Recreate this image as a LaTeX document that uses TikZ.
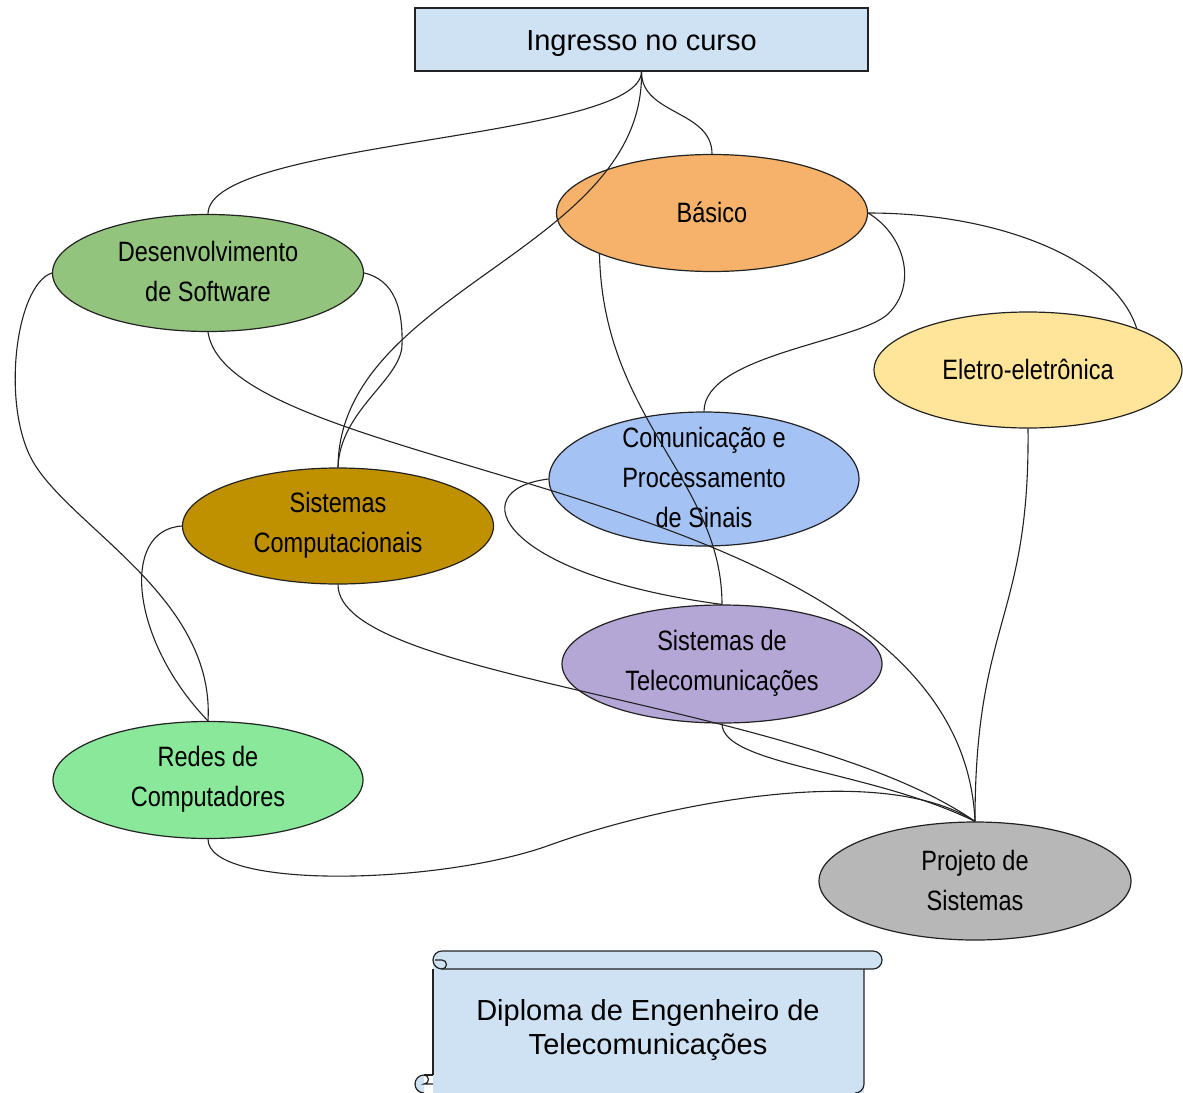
\documentclass[tikz,border=0pt]{standalone}
\usepackage{fontspec}
\setmainfont{Liberation Sans}
\newfontfamily\narrowfont{Liberation Sans}[FakeStretch=0.84]
\usetikzlibrary{shapes.geometric}
\definecolor{boxblue}{HTML}{CFE2F3}
\definecolor{basc}{HTML}{F6B26B}
\definecolor{devc}{HTML}{93C47D}
\definecolor{elec}{HTML}{FFE599}
\definecolor{comc}{HTML}{A4C2F4}
\definecolor{scc}{HTML}{BF9000}
\definecolor{stc}{HTML}{B4A7D6}
\definecolor{redc}{HTML}{89E89A}
\definecolor{proc}{HTML}{B7B7B7}
\definecolor{linec}{HTML}{222222}
\begin{document}
\begin{tikzpicture}[x=1pt,y=-1pt,
  ell/.style={ellipse, draw=linec, line width=1.2pt, inner sep=0pt},
  etext/.style={font=\narrowfont\fontsize{28}{40}\selectfont, align=center, inner sep=0pt, text=black},
  conn/.style={draw=linec, line width=1.1pt},
  scrollline/.style={draw=linec, line width=1.2pt}]
\clip (0,0) rectangle (1183,1092);
\fill[white] (0,0) rectangle (1183,1092);

% top box
\node[draw=linec, line width=1.2pt, fill=boxblue, minimum width=453pt, minimum height=63pt, inner sep=0pt] (ing) at (641.5,39.5) {};
\node[inner sep=0pt, font=\fontsize{29}{34}\selectfont] (ingT) at (641.5,44) {Ingresso no curso};

% ellipses
\node[ell, fill=basc, minimum width=311pt, minimum height=117pt] (bas) at (712,213) {};
\node[ell, fill=devc, minimum width=311pt, minimum height=117pt] (dev) at (208,273) {};
\node[ell, fill=elec, minimum width=308pt, minimum height=116pt] (ele) at (1028,370) {};
\node[ell, fill=comc, minimum width=310pt, minimum height=134pt] (com) at (704,479) {};
\node[ell, fill=scc, minimum width=311pt, minimum height=116pt] (sc) at (338,526) {};
\node[ell, fill=stc, minimum width=320pt, minimum height=118pt] (st) at (722,664) {};
\node[ell, fill=redc, minimum width=310pt, minimum height=117pt] (red) at (208,780) {};
\node[ell, fill=proc, minimum width=312pt, minimum height=118pt] (pro) at (975,881) {};

\node[etext] (basT) at (712,212) {Básico};
\node[etext] (devT) at (208,271) {Desenvolvimento\\de Software};
\node[etext] (eleT) at (1028,369) {Eletro-eletrônica};
\node[etext] (comT) at (704,477) {Comunicação e\\Processamento\\de Sinais};
\node[etext] (scT) at (338,525) {Sistemas\\Computacionais};
\node[etext] (stT) at (722,663) {Sistemas de\\Telecomunicações};
\node[etext] (redT) at (208,779) {Redes de\\Computadores};
\node[etext] (proT) at (975,880) {Projeto de\\Sistemas};

% connectors
\draw[conn] (ing.south) .. controls (641,140) and (208,140) .. (dev.north);
\draw[conn] (ing.south) .. controls (641,115) and (712,110) .. (bas.north);
\draw[conn] (ing.south) .. controls (645,250) and (339,290) .. (sc.north);
\draw[conn] (bas.east) .. controls (1000,213) and (1115,260) .. (ele.21);
\draw[conn] (bas.east) .. controls (905,235) and (918,285) .. (888,314) .. controls (858,342) and (704,355) .. (com.north);
\draw[conn] (bas.200) .. controls (603,420) and (722,480) .. (st.north);
\draw[conn] (dev.east) .. controls (395,280) and (403,310) .. (402,345) .. controls (401,380) and (340,410) .. (sc.north);
\draw[conn] (dev.west) .. controls (15,285) and (0,410) .. (35,465) .. controls (77,531) and (215,600) .. (red.north);
\draw[conn] (sc.west) .. controls (120,530) and (130,640) .. (red.north);
\draw[conn] (dev.south) .. controls (230,480) and (960,480) .. (pro.north);
\draw[conn] (sc.south) .. controls (338,680) and (800,700) .. (pro.north);
\draw[conn] (com.west) .. controls (460,490) and (500,575) .. (st.north);
\draw[conn] (st.south) .. controls (722,765) and (870,770) .. (pro.north);
\draw[conn] (red.south) .. controls (208,890) and (440,885) .. (550,845) .. controls (660,805) and (880,760) .. (pro.north);
\draw[conn] (ele.south) .. controls (1030,620) and (975,620) .. (pro.north);

% scroll
\fill[boxblue] (433,960) rectangle (864,1093);
\draw[scrollline] (433,969) -- (433,1075);
\draw[scrollline] (864,969) -- (864,1084) arc[start angle=0, end angle=90, radius=9];
\draw[scrollline, fill=boxblue] (424,1075) arc[start angle=-90, end angle=-270, radius=9];
\draw[scrollline] (424,1075) -- (433,1075);
\draw[scrollline] (433,1084) -- (424,1084) arc[start angle=90, end angle=-90, radius=4.5];
\draw[scrollline, fill=boxblue] (442,951) -- (873,951) arc[start angle=-90, end angle=90, radius=9] -- (442,969) arc[start angle=90, end angle=270, radius=9];
\draw[scrollline] (435,960) -- (442,960) arc[start angle=-90, end angle=90, radius=4.5];
\node[inner sep=0pt, align=center, font=\fontsize{29}{34}\selectfont] (dip) at (648,1030) {Diploma de Engenheiro de\\Telecomunicações};
\end{tikzpicture}
\end{document}
